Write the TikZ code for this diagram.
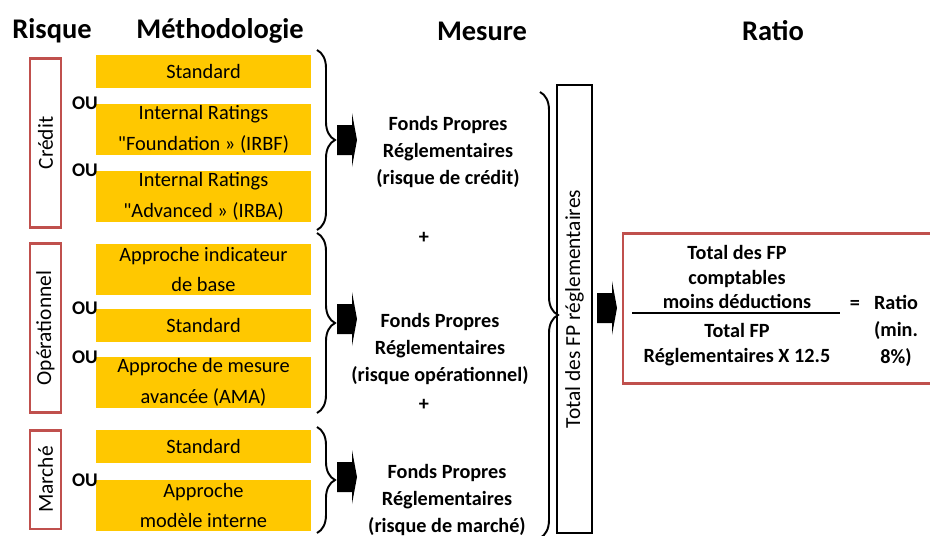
\documentclass[tikz,border=0pt]{standalone}
\usepackage{fontspec}
\setmainfont{Carlito}
\newfontfamily\qfont{Carlito}[Ligatures=ResetAll]
\usetikzlibrary{decorations.pathreplacing}
\definecolor{gold}{HTML}{FFC800}
\definecolor{brick}{HTML}{C0504D}
\newcommand{\sq}{{\qfont"}}

\begin{document}
\begin{tikzpicture}[x=0.02cm,y=-0.02cm]
        \tikzset{head/.style = {font=\fontsize{16.2}{19}\selectfont\bfseries}}
        \tikzset{method/.style = {fill=gold, minimum width=4.3cm, inner sep=0pt, align=center,
                font=\fontsize{11.6}{17.6}\selectfont}}
        \tikzset{risk/.style = {draw=brick, line width=1.7pt, rotate=90, minimum height=0.62cm,
                inner sep=0pt, font=\fontsize{12.2}{14}\selectfont}}
        \tikzset{ou/.style = {font=\fontsize{11}{13}\selectfont\bfseries}}
        \tikzset{fp/.style = {align=center, font=\fontsize{11.5}{15.3}\selectfont\bfseries}}
        \tikzset{ratiotxt/.style = {align=center, font=\fontsize{11.5}{14.2}\selectfont\bfseries}}
        \tikzset{brace/.style = {decorate, decoration={brace, amplitude=0.36cm}, line width=1.1pt}}
        \tikzset{blockarrow/.pic = {\fill (-8,-15) -- (7,-15) -- (7,-27) -- (12,0) -- (7,27) -- (7,15) -- (-8,15) -- cycle;}}

        \useasboundingbox (0,0) rectangle (930,535);

        \node[head] (h1) at (52,31) {Risque};
        \node[head] (h2) at (220,31) {Méthodologie};
        \node[head] (h3) at (482,31) {Mesure};
        \node[head] (h4) at (773,31) {Ratio};

        \node[risk, minimum width=3.4cm] (r1) at (45.5,143) {Crédit};
        \node[risk, minimum width=3.4cm] (r2) at (45.5,328) {Opérationnel};
        \node[risk, minimum width=1.98cm] (r3) at (45.5,479.5) {Marché};

        \node[method, minimum height=0.66cm] (m1) at (203.5,71.5) {Standard};
        \node[method, minimum height=1.02cm] (m2) at (203.5,129.5) {Internal Ratings\\\sq Foundation » (IRBF)};
        \node[method, minimum height=1.02cm] (m3) at (203.5,196.5) {Internal Ratings\\\sq Advanced » (IRBA)};
        \node[method, minimum height=1.02cm] (m4) at (203.5,269.5) {Approche indicateur\\de base};
        \node[method, minimum height=0.66cm] (m5) at (203.5,325.5) {Standard};
        \node[method, minimum height=1.02cm] (m6) at (203.5,382.5) {Approche de mesure\\avancée (AMA)};
        \node[method, minimum height=0.66cm] (m7) at (203.5,446.5) {Standard};
        \node[method, minimum height=1.02cm] (m8) at (203.5,505.5) {Approche\\modèle interne};

        \node[ou] (o1) at (85,103) {OU};
        \node[ou] (o2) at (85,170) {OU};
        \node[ou] (o3) at (85,308) {OU};
        \node[ou] (o4) at (85,357) {OU};
        \node[ou] (o5) at (85,480) {OU};

        \coordinate (b1) at (317,50);
        \coordinate (b2) at (317,230);
        \coordinate (b3) at (317,233);
        \coordinate (b4) at (317,413);
        \coordinate (b5) at (317,427);
        \coordinate (b6) at (317,533);
        \draw[brace] (b1) -- (b2);
        \draw[brace] (b3) -- (b4);
        \draw[brace] (b5) -- (b6);

        \pic at (345,140) {blockarrow};
        \pic at (345,319) {blockarrow};
        \pic at (345,477) {blockarrow};

        \node[fp] (f1) at (448,152) {Fonds Propres\\Réglementaires\\(risque de crédit)};
        \node[fp] (f2) at (440,349) {Fonds Propres\\Réglementaires\\(risque opérationnel)};
        \node[fp] (f3) at (447,500) {Fonds Propres\\Réglementaires\\(risque de marché)};
        \node[fp] (p1) at (424,238) {+};
        \node[fp] (p2) at (424,405) {+};

        \coordinate (b7) at (540,92);
        \coordinate (b8) at (540,538);
        \draw[brace] (b7) -- (b8);

        \node[draw, line width=1.4pt, rotate=90, minimum width=8.96cm, minimum height=0.7cm, inner sep=0pt,
              font=\fontsize{12.2}{14}\selectfont] (t1) at (574.5,309) {Total des FP réglementaires};

        \pic at (605,308) {blockarrow};

        \coordinate (q1) at (934,233);
        \coordinate (q2) at (623,233);
        \coordinate (q3) at (623,383);
        \coordinate (q4) at (934,383);
        \draw[brick, line width=1.7pt] (q1) -- (q2) -- (q3) -- (q4);

        \node[ratiotxt] (n1) at (737,277) {Total des FP\\comptables\\moins déductions};
        \node[ratiotxt] (n2) at (737,345) {Total FP\\Réglementaires X 12.5};
        \coordinate (l1) at (632,313);
        \coordinate (l2) at (840,313);
        \draw[line width=1.1pt] (l1) -- (l2);
        \node[ratiotxt] (e1) at (855,305) {=};
        \node[ratiotxt, font=\fontsize{11.5}{15.5}\selectfont\bfseries] (n3) at (896,331) {Ratio\\(min.\\8\%)};
\end{tikzpicture}
\end{document}
